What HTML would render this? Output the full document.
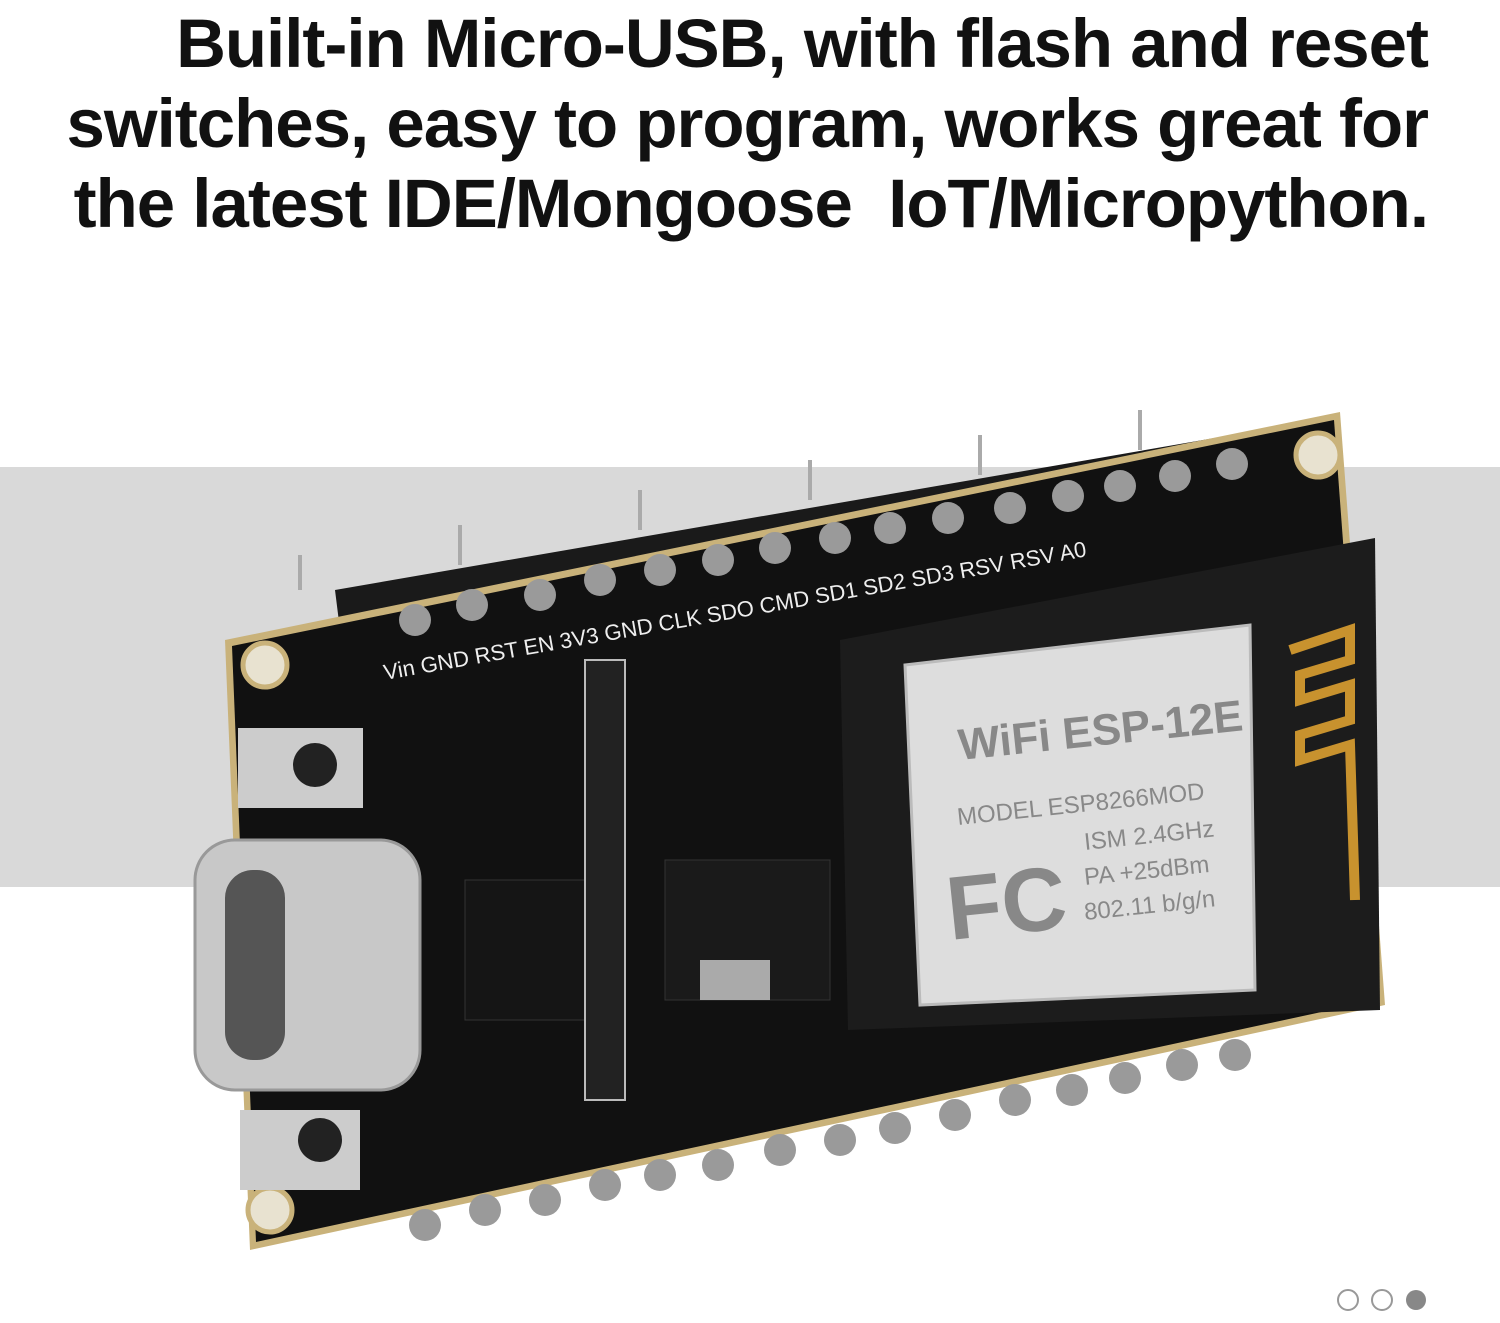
<!DOCTYPE html>
<html><head><meta charset="utf-8"><style>
html,body{margin:0;padding:0;background:#fff;width:1500px;height:1323px;overflow:hidden}
.h{position:absolute;right:72px;top:4px;width:1480px;text-align:right;font-family:"Liberation Sans",sans-serif;font-weight:bold;font-size:69px;line-height:80px;color:#111;letter-spacing:-1px}
svg{position:absolute;left:0;top:0}
</style></head><body>
<div class="h">Built-in Micro-USB, with flash and reset<br>switches, easy to program, works great for<br>the latest IDE/Mongoose&nbsp; IoT/Micropython.</div>
<svg width="1500" height="1323" viewBox="0 0 1500 1323">
<rect x="0" y="467" width="1500" height="420" fill="#d9d9d9"/>
<g fill="#1a1a1a">
<polygon points="335,590 1290,425 1300,465 340,630"/>
</g>
<g stroke="#aaa" stroke-width="4">
<line x1="300" y1="555" x2="300" y2="590"/><line x1="460" y1="525" x2="460" y2="565"/><line x1="640" y1="490" x2="640" y2="530"/><line x1="810" y1="460" x2="810" y2="500"/><line x1="980" y1="435" x2="980" y2="475"/><line x1="1140" y1="410" x2="1140" y2="450"/>
</g>
<polygon points="225,640 1340,412 1385,1005 250,1250" fill="#c9b27a"/>
<polygon points="232,646 1334,420 1377,1000 256,1242" fill="#111"/>
<circle cx="265" cy="665" r="22" fill="#e8e2d0" stroke="#c9b27a" stroke-width="5"/>
<circle cx="1318" cy="455" r="22" fill="#e8e2d0" stroke="#c9b27a" stroke-width="5"/>
<circle cx="1350" cy="980" r="22" fill="#e8e2d0" stroke="#c9b27a" stroke-width="5"/>
<circle cx="270" cy="1210" r="22" fill="#e8e2d0" stroke="#c9b27a" stroke-width="5"/>
<g fill="#9a9a9a">
<circle cx="415" cy="620" r="16"/><circle cx="472" cy="605" r="16"/><circle cx="540" cy="595" r="16"/><circle cx="600" cy="580" r="16"/><circle cx="660" cy="570" r="16"/><circle cx="718" cy="560" r="16"/><circle cx="775" cy="548" r="16"/><circle cx="835" cy="538" r="16"/><circle cx="890" cy="528" r="16"/><circle cx="948" cy="518" r="16"/><circle cx="1010" cy="508" r="16"/><circle cx="1068" cy="496" r="16"/><circle cx="1120" cy="486" r="16"/><circle cx="1175" cy="476" r="16"/><circle cx="1232" cy="464" r="16"/>
</g>
<g fill="#9a9a9a">
<circle cx="425" cy="1225" r="16"/><circle cx="485" cy="1210" r="16"/><circle cx="545" cy="1200" r="16"/><circle cx="605" cy="1185" r="16"/><circle cx="660" cy="1175" r="16"/><circle cx="718" cy="1165" r="16"/><circle cx="780" cy="1150" r="16"/><circle cx="840" cy="1140" r="16"/><circle cx="895" cy="1128" r="16"/><circle cx="955" cy="1115" r="16"/><circle cx="1015" cy="1100" r="16"/><circle cx="1072" cy="1090" r="16"/><circle cx="1125" cy="1078" r="16"/><circle cx="1182" cy="1065" r="16"/><circle cx="1235" cy="1055" r="16"/>
</g>
<g font-family="Liberation Sans,sans-serif" font-size="22" fill="#eee">
<text x="385" y="680" transform="rotate(-10 385 680)">Vin  GND RST  EN  3V3 GND CLK SDO CMD SD1 SD2 SD3 RSV RSV A0</text>
</g>
<polygon points="840,640 1375,538 1380,1010 848,1030" fill="#1c1c1c"/>
<polygon points="905,665 1250,625 1255,990 920,1005" fill="#ddd" stroke="#bbb" stroke-width="3"/>
<g font-family="Liberation Sans,sans-serif" fill="#888">
<text x="960" y="760" font-size="44" font-weight="bold" transform="rotate(-6 960 760)">WiFi ESP-12E</text>
<text x="958" y="825" font-size="24" transform="rotate(-6 958 825)">MODEL  ESP8266MOD</text>
<text x="1085" y="850" font-size="24" transform="rotate(-6 1085 850)">ISM  2.4GHz</text>
<text x="1085" y="885" font-size="24" transform="rotate(-6 1085 885)">PA  +25dBm</text>
<text x="1085" y="920" font-size="24" transform="rotate(-6 1085 920)">802.11 b/g/n</text>
<text x="950" y="940" font-size="90" font-weight="bold" transform="rotate(-6 950 940)">FC</text>
</g>
<path d="M1290,650 L1350,630 L1350,660 L1300,675 L1300,700 L1350,685 L1350,720 L1300,735 L1300,760 L1350,745 L1355,900" fill="none" stroke="#c8922e" stroke-width="10"/>
<rect x="665" y="860" width="165" height="140" fill="#1a1a1a" stroke="#333"/>
<rect x="700" y="960" width="70" height="40" fill="#aaa"/>
<rect x="465" y="880" width="120" height="140" fill="#151515" stroke="#333"/>
<rect x="585" y="660" width="40" height="440" fill="#222" stroke="#bbb" stroke-width="2"/>
<rect x="238" y="728" width="125" height="80" fill="#ccc"/><circle cx="315" cy="765" r="22" fill="#222"/>
<rect x="240" y="1110" width="120" height="80" fill="#ccc"/><circle cx="320" cy="1140" r="22" fill="#222"/>
<rect x="195" y="840" width="225" height="250" rx="40" fill="#c8c8c8" stroke="#999" stroke-width="3"/>
<rect x="225" y="870" width="60" height="190" rx="28" fill="#555"/>
<circle cx="1348" cy="1300" r="10" fill="none" stroke="#999" stroke-width="2"/>
<circle cx="1382" cy="1300" r="10" fill="none" stroke="#999" stroke-width="2"/>
<circle cx="1416" cy="1300" r="10" fill="#888"/>
</svg>
</body></html>
